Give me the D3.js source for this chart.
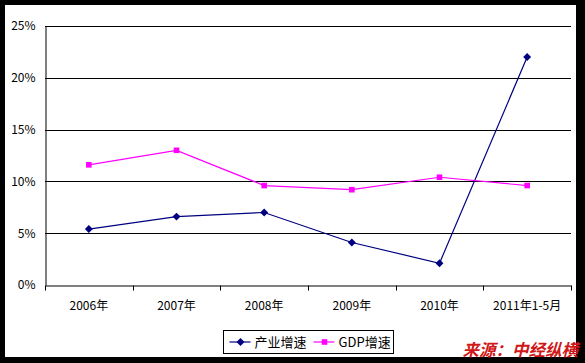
<!DOCTYPE html>
<html>
<head>
<meta charset="utf-8">
<script src="https://cdn.jsdelivr.net/npm/d3@7"></script>
<style>
  html, body { margin: 0; padding: 0; background: #000; }
  svg { display: block; }
</style>
</head>
<body>
<div id="chart"></div>
<script>
const categories = ["2006年", "2007年", "2008年", "2009年", "2010年", "2011年1-5月"];
const industryGrowth = [5.4, 6.6, 7.0, 4.1, 2.1, 22.0]; // 产业增速
const gdpGrowth = [11.6, 13.0, 9.6, 9.2, 10.4, 9.6];    // GDP增速
const yTicks = [0, 5, 10, 15, 20, 25];

const width = 585, height = 363;
const margin = { left: 45, right: 14, top: 26, bottom: 78 }; // plot box inside the frame
const font = "'Noto Sans CJK SC', 'DejaVu Sans', sans-serif";

const svg = d3.select("#chart")
  .append("svg")
  .attr("width", width)
  .attr("height", height);

// black frame with white inner area
svg.append("rect").attr("width", width).attr("height", height).attr("fill", "#000");
svg.append("rect").attr("x", 5).attr("y", 5).attr("width", 571).attr("height", 352).attr("fill", "#fff");

const x = d3.scaleBand()
  .domain(categories)
  .range([margin.left, width - margin.right]);

const y = d3.scaleLinear()
  .domain([0, 25])
  .range([height - margin.bottom, margin.top]);

// gridlines
svg.append("g")
  .selectAll("line")
  .data(yTicks.slice(1))
  .join("line")
  .attr("x1", margin.left)
  .attr("x2", width - margin.right)
  .attr("y1", d => Math.round(y(d)) + 0.5)
  .attr("y2", d => Math.round(y(d)) + 0.5)
  .attr("stroke", "#000")
  .attr("stroke-width", 1);

// y axis
const yAxis = svg.append("g")
  .attr("transform", `translate(${margin.left + 0.5},0)`)
  .call(d3.axisLeft(y).tickValues(yTicks).tickSize(0).tickPadding(10).tickFormat(d => d + "%"));
yAxis.select(".domain").attr("stroke", "#000");
yAxis.selectAll("text")
  .attr("font-family", font)
  .attr("font-size", 12)
  .attr("fill", "#000");

// x axis
const xAxis = svg.append("g")
  .attr("transform", `translate(0,${Math.round(y(0)) + 0.5})`)
  .call(d3.axisBottom(x).tickSize(0).tickPadding(16));
xAxis.select(".domain").attr("stroke", "#000");
xAxis.selectAll("text")
  .attr("font-family", font)
  .attr("font-size", 12)
  .attr("fill", "#000");

// tick marks at category boundaries
const bounds = categories.map(c => x(c)).concat([x(categories[categories.length - 1]) + x.bandwidth()]);
xAxis.selectAll(".bound")
  .data(bounds)
  .join("line")
  .attr("class", "bound")
  .attr("x1", d => Math.round(d) + 0.5)
  .attr("x2", d => Math.round(d) + 0.5)
  .attr("y1", 0)
  .attr("y2", 5)
  .attr("stroke", "#000");

const cx = c => x(c) + x.bandwidth() / 2;
const line = d3.line()
  .x((d, i) => cx(categories[i]))
  .y(d => y(d));

const series = [
  { name: "产业增速", values: industryGrowth, color: "#000080", marker: d3.symbolDiamond2, size: 40 },
  { name: "GDP增速", values: gdpGrowth, color: "#ff00ff", marker: d3.symbolSquare2, size: 40 }
];

series.forEach(s => {
  svg.append("path")
    .datum(s.values)
    .attr("d", line)
    .attr("fill", "none")
    .attr("stroke", s.color)
    .attr("stroke-width", 1.2);

  svg.append("g")
    .selectAll("path")
    .data(s.values)
    .join("path")
    .attr("transform", (d, i) => `translate(${cx(categories[i])},${y(d)})`)
    .attr("d", d3.symbol().type(s.marker).size(s.size))
    .attr("fill", s.color);
});

// legend
const legend = svg.append("g").attr("transform", "translate(223.5,330.5)");
legend.append("rect")
  .attr("width", 170)
  .attr("height", 23)
  .attr("fill", "#fff")
  .attr("stroke", "#000");

const legendX = [6, 90];
series.forEach((s, i) => {
  const g = legend.append("g").attr("transform", `translate(${legendX[i]},11.5)`);
  g.append("line").attr("x1", 0).attr("x2", 21).attr("stroke", s.color).attr("stroke-width", 1.2);
  g.append("path")
    .attr("transform", "translate(11,0)")
    .attr("d", d3.symbol().type(s.marker).size(s.size))
    .attr("fill", s.color);
  g.append("text")
    .attr("x", 25)
    .attr("y", 4.5)
    .attr("font-family", font)
    .attr("font-size", 13)
    .attr("fill", "#000")
    .text(s.name);
});

// source watermark
svg.append("text")
  .attr("x", 578)
  .attr("y", 356)
  .attr("text-anchor", "end")
  .attr("font-family", font)
  .attr("font-size", 16.5)
  .attr("font-weight", "bold")
  .attr("font-style", "italic")
  .attr("fill", "#d01818")
  .text("来源：中经纵横");
</script>
</body>
</html>
